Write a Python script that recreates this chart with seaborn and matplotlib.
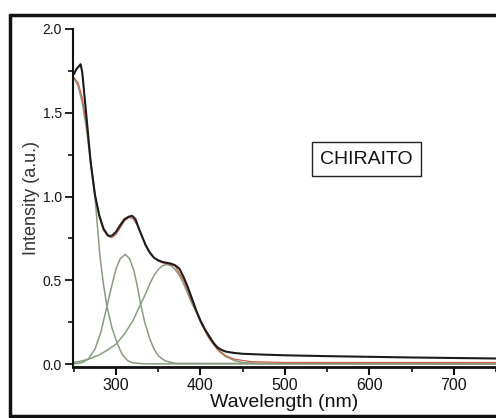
import numpy as np
import pandas as pd
import matplotlib
matplotlib.use("Agg")
import matplotlib.pyplot as plt
from matplotlib.lines import Line2D
from matplotlib.ticker import MultipleLocator, FormatStrFormatter
import seaborn as sns

wl_data = [250, 253, 258, 260, 263, 266, 270, 275, 280, 285, 290, 293, 296, 300,
           305, 310, 315, 319, 323, 327, 331, 335, 340, 345, 350, 355, 360, 365,
           370, 375, 380, 385, 390, 395, 400, 405, 410, 415, 420, 425, 430, 440,
           450, 475, 500, 550, 600, 650, 700, 750]
int_data = [1.73, 1.76, 1.79, 1.74, 1.58, 1.42, 1.20, 1.01, 0.89, 0.81, 0.77, 0.764,
            0.77, 0.79, 0.83, 0.865, 0.88, 0.885, 0.865, 0.81, 0.76, 0.71, 0.665,
            0.635, 0.62, 0.61, 0.605, 0.60, 0.59, 0.57, 0.52, 0.46, 0.39, 0.32, 0.26,
            0.21, 0.17, 0.13, 0.10, 0.085, 0.075, 0.067, 0.062, 0.057, 0.053, 0.048,
            0.044, 0.040, 0.037, 0.034]

# cumulative fit
wl_fit = [250, 255, 260, 265, 270, 275, 280, 285, 290, 295, 300, 305, 310, 315,
          320, 325, 330, 335, 340, 345, 350, 355, 360, 370, 380, 390, 400, 410,
          420, 430, 440, 460, 500, 750]
int_fit = [1.71, 1.68, 1.59, 1.43, 1.22, 1.02, 0.88, 0.80, 0.765, 0.755, 0.775,
           0.815, 0.855, 0.875, 0.87, 0.83, 0.77, 0.715, 0.67, 0.635, 0.615, 0.605,
           0.60, 0.585, 0.50, 0.375, 0.25, 0.155, 0.09, 0.05, 0.03, 0.015, 0.01, 0.01]

# deconvoluted peaks
wl_p1 = [250, 255, 260, 265, 270, 275, 278, 281, 285, 289, 295, 301, 307, 314,
         320, 330, 350, 750]
int_p1 = [1.71, 1.66, 1.56, 1.40, 1.20, 1.00, 0.82, 0.64, 0.48, 0.35, 0.22, 0.13,
          0.06, 0.02, 0.008, 0.003, 0.002, 0.002]

wl_p2 = [250, 255, 260, 267, 275, 282, 289, 295, 300, 305, 311, 316, 321, 325,
         329, 334, 340, 345, 350, 358, 370, 750]
int_p2 = [0.003, 0.005, 0.01, 0.03, 0.09, 0.19, 0.34, 0.47, 0.57, 0.63, 0.655,
          0.63, 0.56, 0.47, 0.36, 0.25, 0.15, 0.09, 0.05, 0.02, 0.005, 0.002]

wl_p3 = [250, 260, 270, 280, 290, 300, 310, 320, 329, 335, 340, 345, 350, 355,
         360, 365, 370, 375, 380, 385, 390, 396, 402, 408, 415, 422, 430, 440,
         450, 470, 750]
int_p3 = [0.01, 0.02, 0.035, 0.055, 0.085, 0.12, 0.18, 0.26, 0.357, 0.42, 0.48,
          0.53, 0.565, 0.588, 0.595, 0.588, 0.565, 0.53, 0.48, 0.42, 0.36, 0.30,
          0.235, 0.175, 0.12, 0.077, 0.045, 0.022, 0.01, 0.004, 0.002]

sns.set_style("ticks")
plt.rcParams['font.family'] = ['Liberation Sans', 'DejaVu Sans']

fig = plt.figure(figsize=(4.96, 4.18), dpi=100)
ax = fig.add_axes([73 / 496, 1 - 366.7 / 418, 423 / 496, 337.7 / 418])

green = '#889c80'
for wl, val in [(wl_p1, int_p1), (wl_p2, int_p2), (wl_p3, int_p3)]:
    sns.lineplot(x=wl, y=val, ax=ax, color=green, lw=1.1, sort=False)
sns.lineplot(x=wl_fit, y=int_fit, ax=ax, color='#c9604a', lw=0.9, sort=False)
sns.lineplot(x=wl_data, y=int_data, ax=ax, color='#1c1c1c', lw=1.5, sort=False)

ax.set_xlim(249, 750)
ax.set_ylim(-0.015, 2.0)
ax.xaxis.set_major_locator(MultipleLocator(100))
ax.xaxis.set_minor_locator(MultipleLocator(50))
ax.yaxis.set_major_locator(MultipleLocator(0.5))
ax.yaxis.set_minor_locator(MultipleLocator(0.25))
ax.yaxis.set_major_formatter(FormatStrFormatter('%.1f'))
ax.set_xticks([300, 400, 500, 600, 700])

ax.tick_params(axis='x', which='major', length=6, width=1.5, labelsize=11.5,
               pad=2, colors='#111111')
ax.tick_params(axis='y', which='major', length=6, width=1.3, labelsize=10,
               pad=2, colors='#111111')
ax.tick_params(which='minor', length=3.5, width=1.2, colors='#111111')

sns.despine(ax=ax)
ax.spines['left'].set_linewidth(1.5)
ax.spines['bottom'].set_linewidth(2.0)
ax.spines['left'].set_color('#111111')
ax.spines['bottom'].set_color('#111111')

ax.set_xlabel('Wavelength (nm)', fontsize=14, labelpad=1, color='#111111')
ax.set_ylabel('Intensity (a.u.)', fontsize=13, labelpad=1.5, color='#333333')

ax.text(0.693, 0.615, 'CHIRAITO', transform=ax.transAxes, fontsize=14,
        ha='center', va='center', color='#111111',
        bbox=dict(boxstyle='square,pad=0.42', fc='white', ec='#222222', lw=1.0))

# scan frame around the figure
frame = dict(color='#111111', lw=2.5, transform=fig.transFigure)
fig.add_artist(Line2D([10 / 496, 10 / 496], [1 - 15 / 418, 1 - 416 / 418], **frame))
fig.add_artist(Line2D([10 / 496, 1.0], [1 - 15 / 418, 1 - 15 / 418], **frame))
fig.add_artist(Line2D([10 / 496, 1.0], [1 - 416 / 418, 1 - 416 / 418], **frame))

fig.savefig('out.png', dpi=100)
